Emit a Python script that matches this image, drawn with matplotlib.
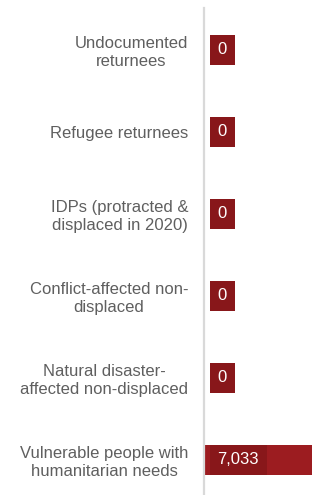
import matplotlib
matplotlib.use("Agg")
import matplotlib.pyplot as plt
import matplotlib.transforms as mtransforms
from matplotlib.patches import Rectangle

categories = [
    "Undocumented\nreturnees",
    "Refugee returnees",
    "IDPs (protracted &\ndisplaced in 2020)",
    "Conflict-affected non-\ndisplaced",
    "Natural disaster-\naffected non-displaced",
    "Vulnerable people with\nhumanitarian needs",
]
values = [0, 0, 0, 0, 0, 7033]
value_labels = ["0", "0", "0", "0", "0", "7,033"]

plt.rcParams['font.family'] = ['Liberation Sans', 'DejaVu Sans']

W, H = 312, 495
fig = plt.figure(figsize=(W / 100, H / 100), dpi=100)
ax = fig.add_axes([203.5 / W, 0, 1 - 203.5 / W, 1 - 8 / H])

bar_color = "#9C1C20"
box_color = "#88171A"
bar_h = 0.36
pos = list(range(len(categories)))

ax.barh(pos, values, height=bar_h, color=bar_color, zorder=2)
ax.set_xlim(0, max(values))
ax.set_ylim(5.43, -0.51)

ax.set_yticks(pos)
ax.set_yticklabels(categories, fontsize=12, color="#5F5F5F")
for lab in ax.get_yticklabels():
    lab.set_multialignment("center")
    lab.set_linespacing(1.2)
ax.tick_params(axis="y", length=0, pad=11)
ax.set_xticks([])

for s in ["top", "right", "bottom"]:
    ax.spines[s].set_visible(False)
ax.spines["left"].set_color("#D9D9D9")
ax.spines["left"].set_linewidth(1.6)
ax.spines["left"].set_zorder(5)

trans = mtransforms.offset_copy(ax.transData, fig=fig, x=14, y=0, units="dots")
texts = []
for i, lbl in zip(pos, value_labels):
    t = ax.text(0, i, lbl, transform=trans, ha="left", va="center",
                fontsize=12, color="white", zorder=4)
    texts.append((i, t))

fig.canvas.draw()
renderer = fig.canvas.get_renderer()
inv = ax.transData.inverted()
for i, t in texts:
    bb = t.get_window_extent(renderer)
    x0 = inv.transform((bb.x0 - 8, 0))[0]
    x1 = inv.transform((bb.x1 + 8, 0))[0]
    ax.add_patch(Rectangle((x0, i - bar_h / 2), x1 - x0, bar_h,
                           facecolor=box_color, edgecolor="none", zorder=3,
                           clip_on=False))

fig.savefig("out.png", dpi=100)
